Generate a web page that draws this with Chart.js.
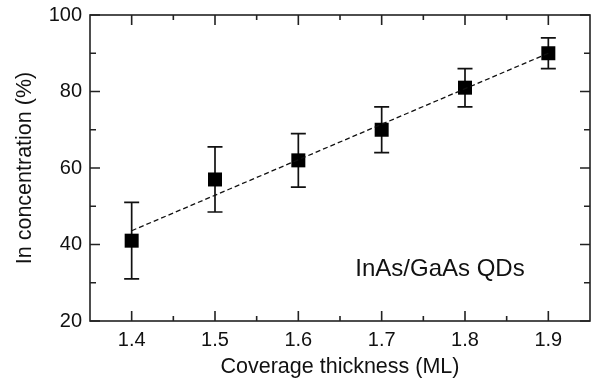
<!DOCTYPE html>
<html>
<head>
<meta charset="utf-8">
<script src="https://cdn.jsdelivr.net/npm/chart.js@4/dist/chart.umd.min.js"></script>
<style>
  html, body { margin: 0; padding: 0; background: #fff; overflow: hidden; }
  canvas { display: block; }
</style>
</head>
<body>
<canvas id="inChart" width="592" height="383"></canvas>
<script>
// data
const thickness = [1.4, 1.5, 1.6, 1.7, 1.8, 1.9];
const inConc = [41, 57, 62, 70, 81, 90];
const errHigh = [51, 65.5, 69, 76, 86, 94];
const errLow = [31, 48.5, 55, 64, 76, 86];
const fitX = [1.4, 1.9];
const fitY = [43.6, 90];
const xTicks = [1.4, 1.5, 1.6, 1.7, 1.8, 1.9];
const xMinor = [1.45, 1.55, 1.65, 1.75, 1.85];
const yTicks = [20, 40, 60, 80, 100];
const yMinor = [30, 50, 70, 90];

const fontFam = '"Liberation Sans", Arial, Helvetica, sans-serif';

// pin the right edge of the plot box (the axis titles eat a few px otherwise)
const pinArea = {
    id: 'pinArea',
    afterLayout(chart) {
        const a = chart.chartArea;
        const xs = chart.scales.x;
        a.right = 590;
        a.width = a.right - a.left;
        xs.right = 590;
        xs.width = xs.right - xs.left;
        xs.configure();
    }
};

// error bars, drawn under the squares
const errorBars = {
    id: 'errorBars',
    beforeDatasetsDraw(chart) {
        const ctx = chart.ctx;
        const xs = chart.scales.x, ys = chart.scales.y;
        ctx.save();
        ctx.strokeStyle = '#111';
        ctx.lineWidth = 1.7;
        thickness.forEach((t, i) => {
            const px = xs.getPixelForValue(t);
            const top = ys.getPixelForValue(errHigh[i]);
            const bot = ys.getPixelForValue(errLow[i]);
            ctx.beginPath();
            ctx.moveTo(px, top); ctx.lineTo(px, bot);
            ctx.moveTo(px - 7.5, top); ctx.lineTo(px + 7.5, top);
            ctx.moveTo(px - 7.5, bot); ctx.lineTo(px + 7.5, bot);
            ctx.stroke();
        });
        ctx.restore();
    }
};

// frame with inward ticks on all four sides, plus the label
const frame = {
    id: 'frame',
    afterDraw(chart) {
        const ctx = chart.ctx;
        const a = chart.chartArea;
        const xs = chart.scales.x, ys = chart.scales.y;
        ctx.save();
        ctx.strokeStyle = '#222';
        ctx.lineWidth = 1.6;
        ctx.strokeRect(a.left, a.top, a.right - a.left, a.bottom - a.top);
        ctx.beginPath();
        const xt = (vals, len) => vals.forEach(v => {
            const p = xs.getPixelForValue(v);
            ctx.moveTo(p, a.bottom); ctx.lineTo(p, a.bottom - len);
            ctx.moveTo(p, a.top); ctx.lineTo(p, a.top + len);
        });
        const yt = (vals, len) => vals.forEach(v => {
            const p = ys.getPixelForValue(v);
            ctx.moveTo(a.left, p); ctx.lineTo(a.left + len, p);
            ctx.moveTo(a.right, p); ctx.lineTo(a.right - len, p);
        });
        xt(xTicks, 10); xt(xMinor, 5);
        yt(yTicks, 10); yt(yMinor, 6);
        ctx.stroke();

        ctx.fillStyle = '#111';
        ctx.font = '24px ' + fontFam;
        ctx.textAlign = 'center';
        ctx.textBaseline = 'middle';
        ctx.fillText('InAs/GaAs QDs', xs.getPixelForValue(1.77), ys.getPixelForValue(33.5));
        ctx.restore();
    }
};

new Chart(document.getElementById('inChart'), {
    type: 'scatter',
    data: {
        datasets: [{
            type: 'line',
            data: fitX.map((x, i) => ({ x: x, y: fitY[i] })),
            borderColor: '#111',
            borderWidth: 1.3,
            borderDash: [5, 3],
            pointRadius: 0,
            fill: false
        }, {
            data: thickness.map((x, i) => ({ x: x, y: inConc[i] })),
            pointStyle: 'rect',
            pointRadius: 9.9,
            backgroundColor: '#000',
            borderColor: '#000',
            borderWidth: 0
        }]
    },
    options: {
        responsive: false,
        animation: false,
        layout: { padding: { top: 15, right: 2, left: 0, bottom: 0 } },
        plugins: {
            legend: { display: false },
            tooltip: { enabled: false }
        },
        scales: {
            x: {
                type: 'linear',
                min: 1.35,
                max: 1.95,
                afterBuildTicks: s => { s.ticks = xTicks.map(v => ({ value: v })); },
                afterFit: s => { s.height = 62; s.paddingLeft = 0; s.paddingRight = 0; },
                grid: { display: false, drawTicks: false, tickLength: 0 },
                border: { display: false },
                ticks: {
                    color: '#111',
                    padding: 7,
                    maxRotation: 0,
                    font: { family: fontFam, size: 20 },
                    callback: v => v.toFixed(1)
                },
                title: {
                    display: true,
                    text: 'Coverage thickness (ML)',
                    color: '#111',
                    font: { family: fontFam, size: 21.5 },
                    padding: { top: 0, bottom: 3 }
                }
            },
            y: {
                min: 20,
                max: 100,
                afterBuildTicks: s => { s.ticks = yTicks.map(v => ({ value: v })); },
                afterFit: s => { s.width = 90; s.paddingTop = 0; s.paddingBottom = 0; },
                grid: { display: false, drawTicks: false, tickLength: 0 },
                border: { display: false },
                ticks: {
                    color: '#111',
                    padding: 8,
                    font: { family: fontFam, size: 20 }
                },
                title: {
                    display: true,
                    text: 'In concentration (%)',
                    color: '#111',
                    font: { family: fontFam, size: 21.5 },
                    padding: { top: 12, bottom: 0 }
                }
            }
        }
    },
    plugins: [pinArea, errorBars, frame]
});
</script>
</body>
</html>
